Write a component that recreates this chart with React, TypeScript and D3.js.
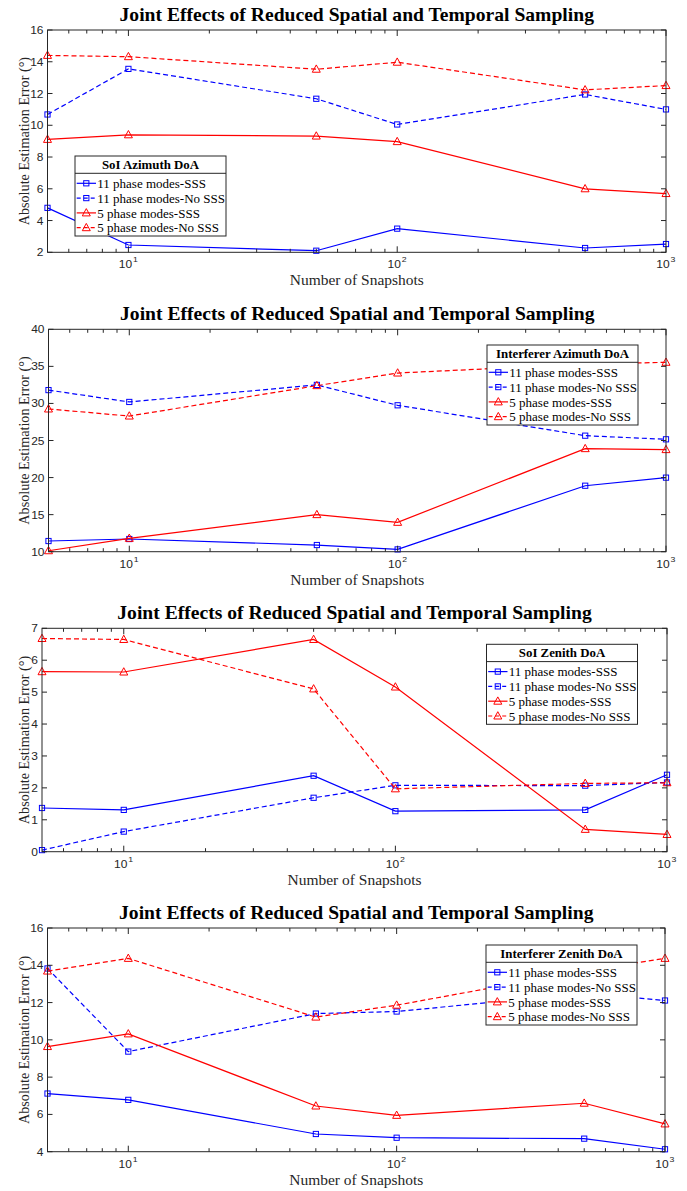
import * as d3 from "d3";

const snapshots = [5, 10, 50, 100, 500, 1000];

const seriesNames = [
  "11 phase modes-SSS",
  "11 phase modes-No SSS",
  "5 phase modes-SSS",
  "5 phase modes-No SSS",
];

// SoI azimuth
const soiAz11Sss = [4.8, 2.46, 2.1, 3.49, 2.27, 2.52];
const soiAz11NoSss = [10.68, 13.55, 11.67, 10.05, 11.94, 11.0];
const soiAz5Sss = [9.11, 9.4, 9.32, 8.97, 6.0, 5.7];
const soiAz5NoSss = [14.4, 14.32, 13.53, 13.97, 12.23, 12.5];

// interferer azimuth
const intAz11Sss = [11.44, 11.71, 10.9, 10.31, 18.9, 19.99];
const intAz11NoSss = [31.8, 30.2, 32.5, 29.75, 25.65, 25.16];
const intAz5Sss = [10.13, 11.8, 15.0, 13.96, 23.9, 23.77];
const intAz5NoSss = [29.25, 28.3, 32.4, 34.1, 35.3, 35.55];

// SoI zenith
const soiZe11Sss = [1.37, 1.31, 2.38, 1.27, 1.31, 2.41];
const soiZe11NoSss = [0.05, 0.63, 1.69, 2.08, 2.07, 2.17];
const soiZe5Sss = [5.64, 5.63, 6.65, 5.16, 0.7, 0.54];
const soiZe5NoSss = [6.68, 6.65, 5.1, 1.97, 2.14, 2.16];

// interferer zenith
const intZe11Sss = [7.12, 6.78, 4.95, 4.75, 4.7, 4.13];
const intZe11NoSss = [13.83, 9.37, 11.41, 11.52, 12.5, 12.11];
const intZe5Sss = [9.64, 10.32, 6.45, 5.95, 6.6, 5.49];
const intZe5NoSss = [13.69, 14.37, 11.22, 11.86, 13.7, 14.37];

const yTicksAz = [2, 4, 6, 8, 10, 12, 14, 16];
const yTicksIntAz = [10, 15, 20, 25, 30, 35, 40];
const yTicksZe = [0, 1, 2, 3, 4, 5, 6, 7];
const yTicksIntZe = [4, 6, 8, 10, 12, 14, 16];
const xMajor = [10, 100, 1000];
const xMinor = [6, 7, 8, 9, 20, 30, 40, 50, 60, 70, 80, 90, 200, 300, 400, 500, 600, 700, 800, 900];

const AXIS = "#262626";
const BLUE = "#0000ff";
const RED = "#ff0000";
const SERIF = "'Liberation Serif', 'Times New Roman', serif";
const SANS = "'Liberation Sans', Arial, sans-serif";
const SX = 1.09; // the figure is a bit wider than tall

const styles = [
  { color: BLUE, dash: "", marker: "square" },
  { color: BLUE, dash: "5,3", marker: "square" },
  { color: RED, dash: "", marker: "tri" },
  { color: RED, dash: "5,3", marker: "tri" },
];

function Marker({ kind, x, y, color }: { kind: string; x: number; y: number; color: string }) {
  if (kind === "square") {
    return <rect x={x - 2.6} y={y - 2.6} width={5.2} height={5.2} fill="none" stroke={color} strokeWidth={1} />;
  }
  return (
    <polygon
      points={`${x},${y - 4.3} ${x - 4},${y + 3} ${x + 4},${y + 3}`}
      fill="none"
      stroke={color}
      strokeWidth={1}
    />
  );
}

function HText({ x, y, children, ...rest }: any) {
  return (
    <text transform={`translate(${x},${y}) scale(${SX},1)`} {...rest}>
      {children}
    </text>
  );
}

type PanelProps = {
  left: number;
  right: number;
  top: number;
  bottom: number;
  yDomain: [number, number];
  yTicks: number[];
  series: number[][];
  legendTitle: string;
  legendX: number;
  legendY: number;
};

function Panel(p: PanelProps) {
  const x = d3.scaleLog().domain([5, 1000]).range([p.left, p.right]);
  const y = d3.scaleLinear().domain(p.yDomain).range([p.bottom, p.top]);
  const line = d3
    .line<number>()
    .x((_, i) => x(snapshots[i]))
    .y((d) => y(d));
  const cx = (p.left + p.right) / 2;
  const cy = (p.top + p.bottom) / 2;
  const lw = 151;
  const lh = 80;

  return (
    <g>
      <HText x={cx} y={p.top - 9} textAnchor="middle" fontFamily={SERIF} fontWeight="bold" fontSize={18} fill="#000">
        Joint Effects of Reduced Spatial and Temporal Sampling
      </HText>

      {/* data */}
      {p.series.map((s, k) => (
        <g key={k}>
          <path d={line(s) || ""} fill="none" stroke={styles[k].color} strokeWidth={1.2} strokeDasharray={styles[k].dash} />
          {s.map((v, i) => (
            <Marker key={i} kind={styles[k].marker} x={x(snapshots[i])} y={y(v)} color={styles[k].color} />
          ))}
        </g>
      ))}

      {/* box + ticks */}
      <rect x={p.left} y={p.top} width={p.right - p.left} height={p.bottom - p.top} fill="none" stroke={AXIS} strokeWidth={1} />
      {p.yTicks.map((t) => (
        <g key={t}>
          <line x1={p.left} x2={p.left + 5} y1={y(t)} y2={y(t)} stroke={AXIS} />
          <line x1={p.right} x2={p.right - 5} y1={y(t)} y2={y(t)} stroke={AXIS} />
          <HText x={p.left - 4} y={y(t) + 4} textAnchor="end" fontFamily={SANS} fontSize={11} fill={AXIS}>
            {t}
          </HText>
        </g>
      ))}
      {xMajor.map((t) => (
        <g key={t}>
          <line x1={x(t)} x2={x(t)} y1={p.bottom} y2={p.bottom - 6} stroke={AXIS} />
          <line x1={x(t)} x2={x(t)} y1={p.top} y2={p.top + 6} stroke={AXIS} />
          <HText x={x(t) - 3} y={p.bottom + 16} textAnchor="middle" fontFamily={SANS} fontSize={11} fill={AXIS}>
            10
          </HText>
          <HText x={x(t) + 7} y={p.bottom + 10} textAnchor="middle" fontFamily={SANS} fontSize={8} fill={AXIS}>
            {Math.round(Math.log10(t))}
          </HText>
        </g>
      ))}
      {xMinor.map((t) => (
        <g key={t}>
          <line x1={x(t)} x2={x(t)} y1={p.bottom} y2={p.bottom - 3.5} stroke={AXIS} />
          <line x1={x(t)} x2={x(t)} y1={p.top} y2={p.top + 3.5} stroke={AXIS} />
        </g>
      ))}

      <HText x={cx} y={p.bottom + 33} textAnchor="middle" fontFamily={SERIF} fontSize={14.2} fill={AXIS}>
        Number of Snapshots
      </HText>
      <text
        transform={`translate(24,${cy}) rotate(-90)`}
        textAnchor="middle"
        dominantBaseline="central"
        fontFamily={SERIF}
        fontSize={14.2}
        fill={AXIS}
      >
        Absolute Estimation Error (°)
      </text>

      {/* legend */}
      <g transform={`translate(${p.legendX},${p.legendY})`}>
        <rect x={0} y={0} width={lw} height={lh} fill="#fff" stroke={AXIS} strokeWidth={1} />
        <line x1={0} x2={lw} y1={17.3} y2={17.3} stroke={AXIS} />
        <HText x={lw / 2} y={12.8} textAnchor="middle" fontFamily={SERIF} fontWeight="bold" fontSize={11.8} fill="#000">
          {p.legendTitle}
        </HText>
        {seriesNames.map((name, k) => {
          const ry = 27.3 + k * 14.8;
          return (
            <g key={name}>
              <line x1={1.7} x2={21} y1={ry} y2={ry} stroke={styles[k].color} strokeWidth={1.2} strokeDasharray={styles[k].dash ? "4,3" : ""} />
              <Marker kind={styles[k].marker} x={11.3} y={ry} color={styles[k].color} />
              <text x={22.3} y={ry + 4.6} fontFamily={SERIF} fontSize={13} fill="#000">
                {name}
              </text>
            </g>
          );
        })}
      </g>
    </g>
  );
}

export default function App() {
  return (
    <svg width={687} height={1191} style={{ position: "absolute", left: 0, top: 0, background: "#fff" }}>
      <rect width={687} height={1191} fill="#fff" />
      <Panel
        left={47.5}
        right={666}
        top={30}
        bottom={252.3}
        yDomain={[2, 16]}
        yTicks={yTicksAz}
        series={[soiAz11Sss, soiAz11NoSss, soiAz5Sss, soiAz5NoSss]}
        legendTitle="SoI Azimuth DoA"
        legendX={75}
        legendY={156}
      />
      <Panel
        left={48.5}
        right={666}
        top={329.3}
        bottom={551.7}
        yDomain={[10, 40]}
        yTicks={yTicksIntAz}
        series={[intAz11Sss, intAz11NoSss, intAz5Sss, intAz5NoSss]}
        legendTitle="Interferer Azimuth DoA"
        legendX={487}
        legendY={345}
      />
      <Panel
        left={42}
        right={667}
        top={628.3}
        bottom={851.7}
        yDomain={[0, 7]}
        yTicks={yTicksZe}
        series={[soiZe11Sss, soiZe11NoSss, soiZe5Sss, soiZe5NoSss]}
        legendTitle="SoI Zenith DoA"
        legendX={486.5}
        legendY={644.3}
      />
      <Panel
        left={47.5}
        right={665}
        top={928}
        bottom={1151.7}
        yDomain={[4, 16]}
        yTicks={yTicksIntZe}
        series={[intZe11Sss, intZe11NoSss, intZe5Sss, intZe5NoSss]}
        legendTitle="Interferer Zenith DoA"
        legendX={486}
        legendY={945}
      />
    </svg>
  );
}
